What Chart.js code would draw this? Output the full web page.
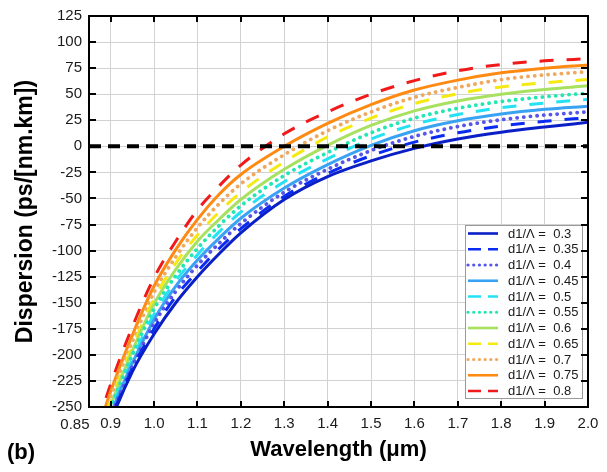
<!DOCTYPE html>
<html>
<head>
<meta charset="utf-8">
<script src="https://cdn.jsdelivr.net/npm/chart.js@4.4.1/dist/chart.umd.min.js"></script>
<style>
  html, body { margin: 0; padding: 0; background: #ffffff; }
  #wrap { position: relative; width: 607px; height: 472px; }
</style>
</head>
<body>
<div id="wrap"><canvas id="c" width="607" height="472"></canvas></div>
<script>
// Wavelength samples (µm) shared by every dispersion curve
const wavelengths = [0.87, 0.9, 0.95, 1.0, 1.05, 1.1, 1.15, 1.2, 1.3, 1.4, 1.5, 1.6, 1.7, 1.8, 1.9, 2.0];

// Dispersion (ps/[nm.km]) for each d1/Λ ratio
const d030 = [-300, -264, -216, -180, -150, -125, -103, -83, -51, -29, -14, -2, 7, 13.5, 18.5, 23];
const d035 = [-298, -262, -213, -175, -144, -120, -98, -79, -48, -26, -9, 4, 13, 19.5, 24, 27.5];
const d040 = [-296, -260, -211, -170, -139, -114, -93, -74, -44, -22, -4, 9.5, 19, 25.5, 30, 33];
const d045 = [-294, -257, -208, -166, -134, -109, -88, -69, -40, -17.5, 1, 15, 24.5, 31, 35.5, 38.5];
const d050 = [-291, -254, -204, -161, -129, -104, -82, -63, -34, -12, 7, 21, 30.5, 37, 41.5, 45];
const d055 = [-288, -251, -200, -156, -124, -98, -76, -57, -28, -6, 13, 27, 36.5, 43, 47.5, 51];
const d060 = [-284, -248, -196, -151, -118, -91, -70, -51, -22, 1, 20, 34, 43.5, 50, 54.5, 58];
const d065 = [-280, -244, -192, -146, -112, -85, -63, -44, -15, 9, 27, 41, 50.5, 57, 61, 64];
const d070 = [-276, -240, -187, -140, -106, -78, -55, -36, -8, 15, 33, 47, 56.5, 64, 68.5, 71.5];
const d075 = [-273, -235, -181, -134, -99, -70, -46, -27, 0, 22, 40, 54, 63.5, 70.5, 75, 78];
const d080 = [-266, -228, -173, -126, -91, -61, -38, -18, 12, 33, 50, 63, 72.5, 78.5, 82, 84];

const ratioLabels = ['0.3', '0.35', '0.4', '0.45', '0.5', '0.55', '0.6', '0.65', '0.7', '0.75', '0.8'];
const seriesValues = [d030, d035, d040, d045, d050, d055, d060, d065, d070, d075, d080];

// Zero-dispersion reference line
const zeroLineX = [0.85, 2.0];
const zeroLineY = [0, 0];

// Axis ticks
const xTickValues = [0.85, 0.9, 1.0, 1.1, 1.2, 1.3, 1.4, 1.5, 1.6, 1.7, 1.8, 1.9, 2.0];
const yMin = -250, yMax = 125, yStep = 25;

// Styling
const seriesColors = ['#0b1fc6', '#0a2cf2', '#5656ea', '#3aa2f2', '#24e2f4', '#24e6b2',
                      '#a8e060', '#f4ea12', '#f0a85c', '#ff8a12', '#f01a1a'];
const seriesStyles = ['solid', 'dashed', 'dotted', 'solid', 'dashed', 'dotted',
                      'solid', 'dashed', 'dotted', 'solid', 'dashed'];
const FONT = "'Liberation Sans', Arial, Helvetica, sans-serif";

const lineDash = { solid: [], dashed: [14, 13], dotted: [0.1, 6.6] };
const legendDash = { solid: [], dashed: [13, 7], dotted: [0.1, 5.6] };

const datasets = seriesValues.map((vals, i) => {
  const style = seriesStyles[i];
  return {
    label: 'd1/\u039B =  ' + ratioLabels[i],
    data: wavelengths.map((w, k) => ({ x: w, y: vals[k] })),
    borderColor: seriesColors[i],
    backgroundColor: seriesColors[i],
    borderWidth: style === 'dotted' ? 3.8 : 3,
    borderDash: lineDash[style],
    borderCapStyle: style === 'dotted' ? 'round' : 'butt',
    pointRadius: 0,
    cubicInterpolationMode: 'monotone',
    fill: false,
    order: 1,
    styleKey: style
  };
});

datasets.push({
  label: 'zero',
  data: zeroLineX.map((x, k) => ({ x: x, y: zeroLineY[k] })),
  borderColor: '#000000',
  borderWidth: 4,
  borderDash: [12, 7],
  pointRadius: 0,
  fill: false,
  order: 0,
  isReference: true
});

// Legend, frame, inward ticks and extra labels drawn on the canvas
const framePlugin = {
  id: 'frame',
  afterDraw(chart) {
    const { ctx, chartArea: ca, scales } = chart;
    const xs = scales.x, ys = scales.y;
    ctx.save();

    // legend box inside the plot, lower right
    const lw = 117, lh = 173;
    const lx = ca.right - 6 - lw;
    const ly = ca.bottom - 9 - lh;
    ctx.fillStyle = '#ffffff';
    ctx.fillRect(lx, ly, lw, lh);
    ctx.strokeStyle = '#9a9a9a';
    ctx.lineWidth = 1;
    ctx.strokeRect(lx + 0.5, ly + 0.5, lw, lh);
    ctx.font = '13px ' + FONT;
    ctx.textBaseline = 'middle';
    ctx.textAlign = 'left';
    const rows = chart.data.datasets.filter(d => !d.isReference);
    rows.forEach((d, k) => {
      const cy = ly + 8.5 + k * 15.75;
      ctx.save();
      ctx.strokeStyle = d.borderColor;
      ctx.lineWidth = d.styleKey === 'dotted' ? 3.2 : 2.6;
      ctx.lineCap = d.styleKey === 'dotted' ? 'round' : 'butt';
      ctx.setLineDash(legendDash[d.styleKey]);
      ctx.beginPath();
      ctx.moveTo(lx + 3, cy);
      ctx.lineTo(lx + 33, cy);
      ctx.stroke();
      ctx.restore();
      ctx.fillStyle = '#1a1a1a';
      ctx.fillText(d.label, lx + 43, cy + 0.5);
    });

    // inward tick marks on all four sides
    ctx.strokeStyle = '#000000';
    ctx.lineWidth = 2;
    ctx.setLineDash([]);
    ctx.beginPath();
    xs.ticks.forEach(t => {
      const px = Math.round(xs.getPixelForValue(t.value));
      ctx.moveTo(px, ca.bottom); ctx.lineTo(px, ca.bottom - 6);
      ctx.moveTo(px, ca.top); ctx.lineTo(px, ca.top + 6);
    });
    ys.ticks.forEach(t => {
      const py = Math.round(ys.getPixelForValue(t.value));
      ctx.moveTo(ca.left, py); ctx.lineTo(ca.left + 7, py);
      ctx.moveTo(ca.right, py); ctx.lineTo(ca.right - 7, py);
    });
    ctx.stroke();

    // plot frame
    ctx.lineWidth = 2;
    ctx.strokeRect(ca.left, ca.top, ca.right - ca.left, ca.bottom - ca.top);

    // first wavelength label, set against the left edge
    ctx.fillStyle = '#1a1a1a';
    ctx.font = '15px ' + FONT;
    ctx.textAlign = 'right';
    ctx.textBaseline = 'middle';
    ctx.fillText('0.85', xs.getPixelForValue(0.85) + 0.5, ca.bottom + 18);

    // panel tag
    ctx.font = 'bold 22px ' + FONT;
    ctx.textAlign = 'left';
    ctx.fillStyle = '#000000';
    ctx.fillText('(b)', 7, 453);
    ctx.restore();
  }
};

new Chart(document.getElementById('c'), {
  type: 'line',
  data: { datasets: datasets },
  options: {
    responsive: false,
    animation: false,
    devicePixelRatio: 1,
    layout: { padding: { left: 0, top: 16, right: 19, bottom: 0 } },
    plugins: { legend: { display: false }, tooltip: { enabled: false } },
    scales: {
      x: {
        type: 'linear',
        min: xTickValues[0],
        max: xTickValues[xTickValues.length - 1],
        afterBuildTicks: s => { s.ticks = xTickValues.map(v => ({ value: v })); },
        afterFit: s => { s.height = 65; },
        border: { display: false },
        grid: { color: '#d2d2d2', lineWidth: 1, drawTicks: false },
        ticks: {
          autoSkip: false, maxRotation: 0, padding: 8,
          color: '#1a1a1a', font: { family: FONT, size: 15 },
          callback: v => (Math.abs(v - xTickValues[0]) < 1e-9 ? '' : v.toFixed(1))
        },
        title: {
          display: true, text: 'Wavelength (\u03BCm)', color: '#000000',
          font: { family: FONT, size: 22, weight: 'bold', lineHeight: 1.2 },
          padding: { top: 0, bottom: 9 }
        }
      },
      y: {
        type: 'linear',
        min: yMin, max: yMax,
        afterFit: s => { s.width = 89; },
        border: { display: false },
        grid: { color: '#d2d2d2', lineWidth: 1, drawTicks: false },
        ticks: {
          stepSize: yStep, padding: 7, autoSkip: false,
          color: '#1a1a1a', font: { family: FONT, size: 15 }
        },
        title: {
          display: true, text: 'Dispersion (ps/[nm.km])', color: '#000000',
          font: { family: FONT, size: 23, weight: 'bold', lineHeight: 1.2 },
          padding: { top: 12, bottom: 0 }
        }
      }
    }
  },
  plugins: [framePlugin]
});
</script>
</body>
</html>
